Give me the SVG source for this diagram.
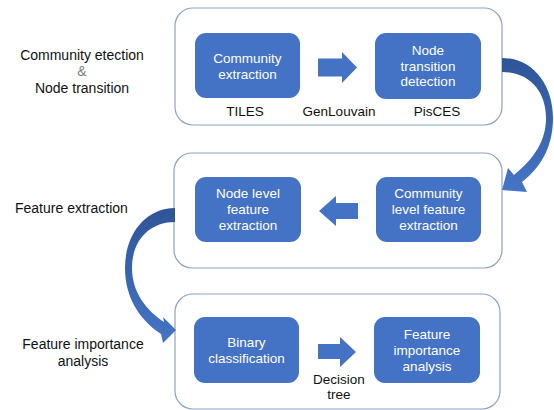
<svg xmlns="http://www.w3.org/2000/svg" width="554" height="410" viewBox="0 0 554 410">
<defs>
<linearGradient id="cg" x1="0" y1="0" x2="0" y2="1">
<stop offset="0" stop-color="#2E5597"/>
<stop offset="1" stop-color="#4575C6"/>
</linearGradient>
<style>
.panel{fill:#fff;stroke:#8EA3C0;stroke-width:1.2}
.node{fill:#4472C4}
.blk{fill:#4472C4}
.nt{font-family:"Liberation Sans",Arial,sans-serif;font-size:13.5px;fill:#fff;text-anchor:middle}
.lb{font-family:"Liberation Sans",Arial,sans-serif;font-size:14px;fill:#111;text-anchor:middle}
.ml{font-family:"Liberation Sans",Arial,sans-serif;font-size:13.5px;fill:#111;text-anchor:middle}
.amp{fill:#7F7F7F}
.curve{fill:url(#cg)}
</style>
</defs>
<rect width="554" height="410" fill="#fff"/>

<g id="side-labels">
<text class="lb" x="82" y="60">Community etection</text>
<text class="lb amp" x="82" y="76">&amp;</text>
<text class="lb" x="82" y="93">Node transition</text>
<text class="lb" x="15" y="213" style="text-anchor:start">Feature extraction</text>
<text class="lb" x="83" y="349">Feature importance</text>
<text class="lb" x="83" y="366">analysis</text>
</g>

<g id="panel1"><rect class="panel" x="175" y="8" width="327" height="117" rx="18"/></g>
<g id="panel2"><rect class="panel" x="174" y="153" width="328" height="115" rx="18"/></g>
<g id="panel3"><rect class="panel" x="175" y="294" width="325" height="115" rx="18"/></g>

<g id="connectors">
<path class="blk" d="M318,58.5 H342 V52 L357,67.5 L342,83 V76.5 H318 Z"/>
<path class="blk" d="M358,203 H336 V196 L319,211 L336,226 V219 H358 Z"/>
<path class="blk" d="M318,344 H340 V337 L356,352 L340,367 V359 H318 Z"/>
<path class="curve" d="M502,58 C533,58 553,85 553,118 C553,148 540,168 522,182 L527,192 L502,190 L508,168 L514,175 C535,158 546,140 546,118 C546,92 530,72 502,72 Z"/>
<path class="curve" d="M175,208 C145,208 125,235 125,268 C125,298 140,320 161,334 L163,343 L176,330 L163,317 L164,322 C146,310 132,292 132,268 C132,240 150,222 175,222 Z"/>
</g>

<g id="n-community-extraction">
<rect class="node" x="195" y="33" width="105" height="65" rx="11"/>
<text class="nt" x="247.5" y="63">Community</text>
<text class="nt" x="247.5" y="79">extraction</text>
</g>
<g id="n-node-transition">
<rect class="node" x="375" y="33" width="106" height="66" rx="11"/>
<text class="nt" x="428" y="55">Node</text>
<text class="nt" x="428" y="70.5">transition</text>
<text class="nt" x="428" y="86">detection</text>
</g>
<g id="method-labels">
<text class="ml" x="245" y="116">TILES</text>
<text class="ml" x="339" y="116">GenLouvain</text>
<text class="ml" x="437" y="116">PisCES</text>
<text class="ml" x="339" y="384">Decision</text>
<text class="ml" x="339" y="399">tree</text>
</g>
<g id="n-node-level">
<rect class="node" x="195" y="177" width="106" height="65" rx="11"/>
<text class="nt" x="248" y="198">Node level</text>
<text class="nt" x="248" y="214">feature</text>
<text class="nt" x="248" y="230">extraction</text>
</g>
<g id="n-community-level">
<rect class="node" x="376" y="177" width="105" height="65" rx="11"/>
<text class="nt" x="428.5" y="198">Community</text>
<text class="nt" x="428.5" y="214">level feature</text>
<text class="nt" x="428.5" y="230">extraction</text>
</g>
<g id="n-binary">
<rect class="node" x="194" y="317" width="105" height="66" rx="11"/>
<text class="nt" x="246.5" y="347">Binary</text>
<text class="nt" x="246.5" y="363">classification</text>
</g>
<g id="n-feature-importance">
<rect class="node" x="374" y="317" width="106" height="66" rx="11"/>
<text class="nt" x="427" y="339">Feature</text>
<text class="nt" x="427" y="355">importance</text>
<text class="nt" x="427" y="371">analysis</text>
</g>
</svg>
